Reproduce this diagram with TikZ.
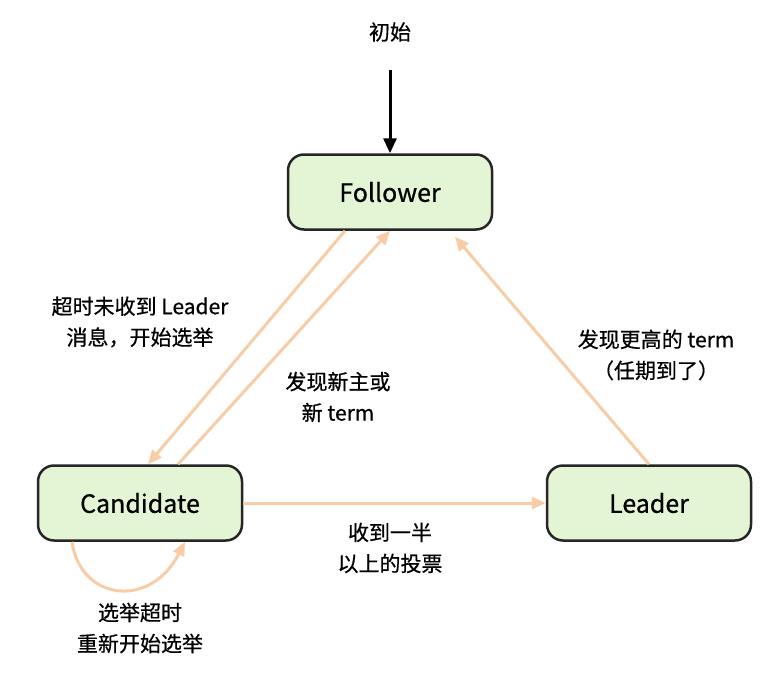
\documentclass[tikz,border=0pt]{standalone}
\usepackage{fontspec}
\setmainfont{Noto Sans CJK SC}[FakeBold=0.6]
\usetikzlibrary{arrows.meta}
\definecolor{nodefill}{HTML}{E3F5D5}
\definecolor{peach}{HTML}{F8CDA6}
\begin{document}
\begin{tikzpicture}[x=1pt,y=-1pt,
  state/.style={draw=black!85,line width=2.5pt,fill=nodefill,rounded corners=16pt,minimum width=204pt,minimum height=75pt,font=\fontsize{25}{30}\selectfont},
  tr/.style={draw=peach,line width=3pt,-{Triangle[length=14pt,width=12pt]}},
  lbl/.style={align=center,font=\fontsize{21}{31}\selectfont}]
\useasboundingbox (0,0) rectangle (778,688);
\node[state] (F) at (390,192) {Follower};
\node[state] (C) at (140,503) {Candidate};
\node[state] (L) at (649,503) {Leader};
\coordinate (init) at (390,70);
\node[lbl] (tinit) at (390,32) {初始};
\draw[line width=3pt,-{Triangle[length=15pt,width=13pt]}] (init) -- (F.north);
\draw[tr] ([xshift=-45pt]F.south) -- ([xshift=8pt]C.north);
\draw[tr] ([xshift=38pt]C.north) -- (F.south);
\draw[tr] (L.north) -- ([xshift=65pt,yshift=-6pt]F.south);
\draw[tr] (C.east) -- (L.west);
\draw[tr] ([xshift=-68pt]C.south) .. controls (80,600) and (150,610) .. ([xshift=45pt]C.south);
\node[lbl] (l1) at (140,322) {超时未收到 Leader\\消息，开始选举};
\node[lbl] (l2) at (338,397) {发现新主或\\新 term};
\node[lbl] (l3) at (656,355) {发现更高的 term\\（任期到了）};
\node[lbl] (l4) at (390,548) {收到一半\\以上的投票};
\node[lbl] (l5) at (140,628) {选举超时\\重新开始选举};
\end{tikzpicture}
\end{document}
